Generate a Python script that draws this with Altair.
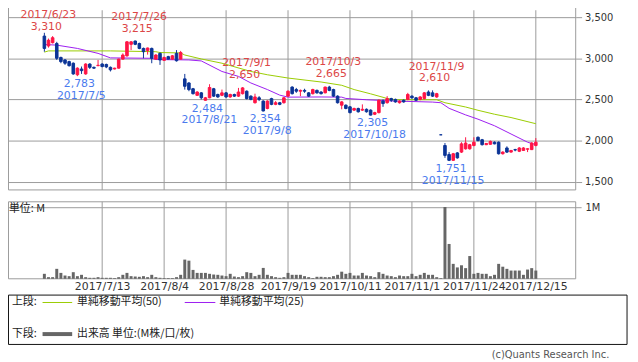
import json
import altair as alt
import pandas as pd

# ---------------- data (trading-day index 0 = 2017/6/23) ----------------
opens = [3270, 3150, 3190, 3180, 3010, 2980, 2960, 2940, 2800, 2870,
         2810, 2930, 2890, 2910, 2930, 2925, 2890, 2870, 2880, 2990,
         3030, 3170, 3210, 3180, 3120, 3095, 3120, 2990, 3060, 2975,
         3020, 2990, 3060, 2990, 2750, 2700, 2630, 2550, 2580, 2490,
         2520, 2630, 2560, 2550, 2580, 2530, 2560, 2540, 2570, 2600,
         2540, 2460, 2520, 2480, 2390, 2510, 2440, 2460, 2460, 2540,
         2650, 2620, 2600, 2610, 2580, 2570, 2610, 2590, 2580, 2650,
         2620, 2540, 2430, 2430, 2410, 2370, 2390, 2370, 2380, 2370,
         2320, 2340, 2480, 2460, 2510, 2500, 2460, 2490, 2500, 2540,
         2520, 2500, 2510, 2590, 2580, 2530, 2070, 1940, 1830, 1760,
         1850, 1860, 1900, 1900, 1940, 2040, 2010, 1950, 1955, 1980,
         1980, 1840, 1910, 1860, 1890, 1870, 1880, 1895, 1890, 1940]
highs = [3310, 3240, 3270, 3200, 3020, 2990, 2970, 2950, 2890, 2900,
         2940, 2940, 2900, 2980, 2940, 2935, 2900, 2885, 2995, 3060,
         3210, 3210, 3215, 3190, 3130, 3130, 3130, 3050, 3070, 3020,
         3030, 3040, 3100, 3090, 2810, 2710, 2640, 2600, 2590, 2530,
         2685, 2640, 2570, 2620, 2590, 2570, 2570, 2640, 2650, 2610,
         2550, 2570, 2540, 2490, 2490, 2520, 2480, 2470, 2530, 2610,
         2660, 2640, 2620, 2630, 2590, 2630, 2620, 2600, 2655, 2665,
         2630, 2550, 2480, 2440, 2420, 2400, 2400, 2440, 2390, 2380,
         2350, 2500, 2500, 2540, 2520, 2510, 2490, 2500, 2580, 2550,
         2530, 2540, 2590, 2610, 2610, 2580, 2070, 1970, 1860, 1850,
         1860, 1980, 2040, 1960, 2040, 2050, 2020, 1970, 2000, 1990,
         1990, 1870, 1930, 1885, 1900, 1920, 1920, 1905, 1980, 2030]
lows = [3080, 3130, 3180, 2980, 2940, 2920, 2900, 2800, 2783, 2810,
        2800, 2870, 2870, 2905, 2890, 2880, 2840, 2865, 2875, 2985,
        3020, 3100, 3160, 3110, 3000, 3045, 2940, 2985, 2920, 2970,
        2985, 2980, 2960, 2985, 2620, 2600, 2560, 2545, 2500, 2484,
        2515, 2530, 2520, 2540, 2520, 2520, 2530, 2530, 2560, 2500,
        2490, 2450, 2480, 2354, 2380, 2430, 2430, 2430, 2450, 2530,
        2560, 2580, 2540, 2580, 2530, 2560, 2570, 2560, 2575, 2600,
        2530, 2450, 2380, 2380, 2330, 2360, 2340, 2360, 2340, 2305,
        2310, 2330, 2410, 2450, 2470, 2460, 2450, 2460, 2490, 2510,
        2480, 2490, 2500, 2540, 2530, 2520, 2070, 1790, 1751, 1755,
        1780, 1850, 1890, 1890, 1930, 1990, 1940, 1945, 1950, 1955,
        1830, 1830, 1850, 1855, 1870, 1860, 1875, 1860, 1885, 1930]
closes = [3120, 3220, 3250, 3000, 2960, 2940, 2910, 2810, 2880, 2850,
          2930, 2890, 2880, 2915, 2900, 2895, 2860, 2880, 2990, 3040,
          3200, 3200, 3170, 3120, 3080, 3125, 3000, 3040, 2980, 3010,
          2990, 3030, 2970, 3070, 2660, 2620, 2570, 2590, 2520, 2520,
          2645, 2540, 2530, 2580, 2530, 2560, 2540, 2590, 2640, 2510,
          2500, 2530, 2500, 2360, 2480, 2440, 2460, 2440, 2520, 2600,
          2570, 2600, 2610, 2600, 2540, 2620, 2580, 2570, 2650, 2610,
          2540, 2460, 2470, 2390, 2340, 2390, 2350, 2380, 2350, 2310,
          2340, 2490, 2450, 2510, 2490, 2470, 2480, 2470, 2560, 2520,
          2490, 2530, 2580, 2550, 2540, 2570, 2070, 1820, 1760, 1840,
          1790, 1960, 1970, 1950, 1980, 2000, 1950, 1965, 1990, 1960,
          1840, 1860, 1860, 1880, 1885, 1910, 1910, 1900, 1970, 1980]
volumes_m = [0.07, 0.023, 0.023, 0.14, 0.083, 0.046, 0.037, 0.093, 0.037, 0.056,
             0.023, 0.014, 0.014, 0.023, 0.014, 0.014, 0.014, 0.01, 0.023, 0.056,
             0.083, 0.037, 0.032, 0.028, 0.037, 0.023, 0.056, 0.023, 0.014, 0.01,
             0.01, 0.01, 0.023, 0.056, 0.27, 0.255, 0.125, 0.083, 0.083, 0.083,
             0.07, 0.06, 0.056, 0.046, 0.037, 0.07, 0.032, 0.023, 0.037, 0.093,
             0.083, 0.037, 0.056, 0.153, 0.056, 0.037, 0.023, 0.014, 0.023, 0.083,
             0.056, 0.056, 0.056, 0.037, 0.023, 0.01, 0.028, 0.028, 0.023, 0.023,
             0.037, 0.056, 0.1, 0.07, 0.083, 0.046, 0.046, 0.083, 0.046, 0.037,
             0.023, 0.093, 0.07, 0.046, 0.037, 0.023, 0.046, 0.037, 0.037, 0.07,
             0.037, 0.056, 0.083, 0.056, 0.056, 0.023, 0.01, 1.01, 0.49, 0.21,
             0.16, 0.19, 0.15, 0.32, 0.07, 0.083, 0.07, 0.07, 0.037, 0.056,
             0.21, 0.17, 0.14, 0.116, 0.116, 0.116, 0.056, 0.13, 0.15, 0.116]

ma50_idx = [0, 1, 16, 27, 28, 33, 34, 38, 43, 50, 54, 59, 67, 72, 75, 79, 83, 85, 95, 97, 102, 105, 109, 113, 119]
ma50_val = [3075, 3090, 3090, 3080, 3070, 3065, 3040, 2992, 2940, 2840, 2800, 2760, 2712, 2672, 2620, 2568, 2512, 2496, 2496, 2460, 2408, 2368, 2320, 2280, 2205]
ma25_idx = [0, 3, 8, 13, 16, 26, 27, 35, 38, 43, 47, 50, 54, 57, 59, 67, 72, 73, 78, 85, 94, 96, 98, 102, 105, 109, 113, 117, 119]
ma25_val = [3168, 3160, 3120, 3060, 3005, 3000, 2985, 2980, 2968, 2840, 2780, 2700, 2620, 2552, 2528, 2530, 2528, 2512, 2496, 2480, 2468, 2460, 2392, 2312, 2260, 2180, 2080, 1980, 1950]

tick_idx = [14, 29, 44, 59, 74, 89, 104, 119]
tick_labels = ["2017/7/13", "2017/8/4", "2017/8/28", "2017/9/19",
               "2017/10/11", "2017/11/1", "2017/11/24", "2017/12/15"]
price_ticks = [1500, 2000, 2500, 3000, 3500]

high_idx = [0, 22, 48, 69, 94]
high_dates = ["2017/6/23", "2017/7/26", "2017/9/1", "2017/10/3", "2017/11/9"]
low_idx = [8, 39, 53, 79, 98]
low_dates = ["2017/7/5", "2017/8/21", "2017/9/8", "2017/10/18", "2017/11/15"]

vol_ticks = [1.0]
vol_tick_labels = ["1M"]

# ---------------- styling ----------------
RED = "#ff1446"
BLUE = "#0b3496"
RED_TXT = "#dc4646"
BLUE_TXT = "#4a7aee"
GREEN = "#99cc00"
PURPLE = "#9b1cf0"
GRID = "#9a9a9a"
NUM_FONT = "DejaVu Sans"
JP_FONT = "Noto Sans CJK JP"

n = len(opens)
candles = pd.DataFrame({
    "idx": list(range(n)), "open": opens, "high": highs,
    "low": lows, "close": closes, "vol": volumes_m,
})
candles["dir"] = ["up" if c > o else "down" for o, c in zip(opens, closes)]

ma50 = pd.DataFrame({"idx": ma50_idx, "val": ma50_val})
ma25 = pd.DataFrame({"idx": ma25_idx, "val": ma25_val})
ticks_df = pd.DataFrame({"idx": tick_idx})
hi_df = pd.DataFrame({"idx": high_idx, "date": high_dates,
                      "price": [highs[i] for i in high_idx]})
hi_df["txt"] = [f"{v:,}" for v in hi_df["price"]]
lo_df = pd.DataFrame({"idx": low_idx, "date": low_dates,
                      "price": [lows[i] for i in low_idx]})
lo_df["txt"] = [f"{v:,}" for v in lo_df["price"]]
vt_df = pd.DataFrame({"v": vol_ticks, "label": vol_tick_labels})
one = pd.DataFrame({"k": [0]})

# ---------------- scales / axes ----------------
XS = alt.Scale(domain=[-7.61, 127.46], nice=False, zero=False)
label_expr = (json.dumps(tick_labels) + "[indexof(" + json.dumps(tick_idx) + ", datum.value)]")
X_AXIS = alt.Axis(values=tick_idx, labelExpr=label_expr, grid=False, domain=False,
                  ticks=False, labelPadding=2, labelFontSize=11, labelFont=NUM_FONT,
                  labelColor="#333333", labelFlush=False, labelOverlap=False, title=None)
PS = alt.Scale(domain=[1400, 3584], range=[182, 0], nice=False, zero=False)
Y_AXIS = alt.Axis(orient="right", values=price_ticks, format=",d", grid=True,
                  gridColor=GRID, gridWidth=1, domain=False, tickColor=GRID,
                  tickSize=6, labelPadding=3, labelFontSize=10, labelFont=NUM_FONT,
                  labelColor="#333333", labelOverlap=False, title=None)
VS = alt.Scale(domain=[0, 1.0833], range=[272, 194], nice=False, zero=True)

def X():
    return alt.X("idx:Q", scale=XS, axis=X_AXIS)

def YP(field):
    return alt.Y(f"{field}:Q", scale=PS, axis=Y_AXIS)

COLOR = alt.Color("dir:N", scale=alt.Scale(domain=["up", "down"], range=[RED, BLUE]), legend=None)
STROKE = alt.Stroke("dir:N", scale=alt.Scale(domain=["up", "down"], range=[RED, BLUE]), legend=None)

# ---------------- frames & grid ----------------
top_frame = alt.Chart(one).mark_rect(fillOpacity=0, stroke=GRID, strokeWidth=1).encode(
    x=alt.value(0.5), x2=alt.value(575), y=alt.value(-3), y2=alt.value(182))
bot_frame = alt.Chart(one).mark_rect(fillOpacity=0, stroke=GRID, strokeWidth=1).encode(
    x=alt.value(0.5), x2=alt.value(575), y=alt.value(194), y2=alt.value(272))
vgrid_top = alt.Chart(ticks_df).mark_rule(color=GRID, strokeWidth=1).encode(
    x=X(), y=alt.value(0), y2=alt.value(182))
vgrid_bot = alt.Chart(ticks_df).mark_rule(color=GRID, strokeWidth=1).encode(
    x=X(), y=alt.value(194), y2=alt.value(272))

# ---------------- price panel ----------------
wicks = alt.Chart(candles).mark_rule(strokeWidth=1).encode(
    x=X(), y=YP("low"), y2="high:Q", color=COLOR)
bodies = alt.Chart(candles).mark_bar(size=2.6, strokeWidth=1).encode(
    x=X(), y=YP("open"), y2="close:Q", color=COLOR, stroke=STROKE)
line50 = alt.Chart(ma50).mark_line(color=GREEN, strokeWidth=1).encode(x=X(), y=YP("val"))
line25 = alt.Chart(ma25).mark_line(color=PURPLE, strokeWidth=1).encode(x=X(), y=YP("val"))

def txt(df, field, color, dx, dy, flt=None):
    c = alt.Chart(df)
    if flt is not None:
        c = c.transform_filter(flt)
    return c.mark_text(font=NUM_FONT, fontSize=11, color=color, dx=dx, dy=dy,
                       baseline="middle", align="center").encode(
        x=X(), y=YP("price"), text=f"{field}:N")

first = "datum.idx == 0"
rest = "datum.idx != 0"
hi_date = txt(hi_df, "date", RED_TXT, 4, -24, rest)
hi_val = txt(hi_df, "txt", RED_TXT, 2, -12, rest)
hi_date0 = txt(hi_df, "date", RED_TXT, 4, -18, first)
hi_val0 = txt(hi_df, "txt", RED_TXT, 2, -6, first)
lo_val = txt(lo_df, "txt", BLUE_TXT, 2, 8)
lo_date = txt(lo_df, "date", BLUE_TXT, 4, 20)

price_layer = alt.layer(vgrid_top, line50, line25, wicks, bodies,
                        hi_date, hi_val, hi_date0, hi_val0, lo_val, lo_date)

# ---------------- volume panel ----------------
vol_bars = alt.Chart(candles).mark_bar(size=3, color="#666666").encode(
    x=X(), y=alt.Y("vol:Q", scale=VS, axis=None))
vol_rule = alt.Chart(vt_df).mark_rule(color=GRID, strokeWidth=1).encode(
    y=alt.Y("v:Q", scale=VS, axis=None), x=alt.value(0), x2=alt.value(581))
vol_lab = alt.Chart(vt_df).mark_text(font=NUM_FONT, fontSize=10, color="#333333",
                                     align="left", baseline="middle").encode(
    y=alt.Y("v:Q", scale=VS, axis=None), x=alt.value(585), text="label:N")
vol_layer = alt.layer(vgrid_bot, vol_rule, vol_bars, vol_lab)

# ---------------- decorations / legend ----------------
def label(text, x, y, font=JP_FONT, size=11, align="left", color="#222222"):
    return alt.Chart(one).mark_text(text=text, font=font, fontSize=size, align=align,
                                    baseline="middle", color=color).encode(
        x=alt.value(x), y=alt.value(y))

def seg(x1, x2, y, color, w):
    return alt.Chart(one).mark_rule(color=color, strokeWidth=w).encode(
        x=alt.value(x1), x2=alt.value(x2), y=alt.value(y))

unit_lab = label("単位: M", 1, 201)
legend_box = alt.Chart(one).mark_rect(fillOpacity=0, stroke="#111111", strokeWidth=1).encode(
    x=alt.value(0.5), x2=alt.value(627), y=alt.value(288.5), y2=alt.value(338.5))
leg = [
    label("上段:", 4, 296), seg(35, 65, 296, GREEN, 1), label("単純移動平均(50)", 70, 296),
    seg(179, 210, 296, PURPLE, 1), label("単純移動平均(25)", 214, 296),
    label("下段:", 4, 328), seg(35, 65, 328, "#666666", 4),
    label("出来高 単位:(M株/口/枚)", 70, 328),
]
copyright_lab = label("(c)Quants Research Inc.", 609, 349, font=NUM_FONT, size=10,
                      align="right", color="#555555")

chart = alt.layer(
    top_frame, bot_frame, price_layer, vol_layer, unit_lab, legend_box, *leg, copyright_lab
).resolve_scale(y="independent").properties(
    width=575, height=272,
    padding={"left": 0, "top": 0, "right": 55, "bottom": 82},
    autosize=alt.AutoSizeParams(type="none"),
    background="white",
).configure_view(stroke=None)

chart.save("out.html", embed_options={"renderer": "svg", "actions": False})
